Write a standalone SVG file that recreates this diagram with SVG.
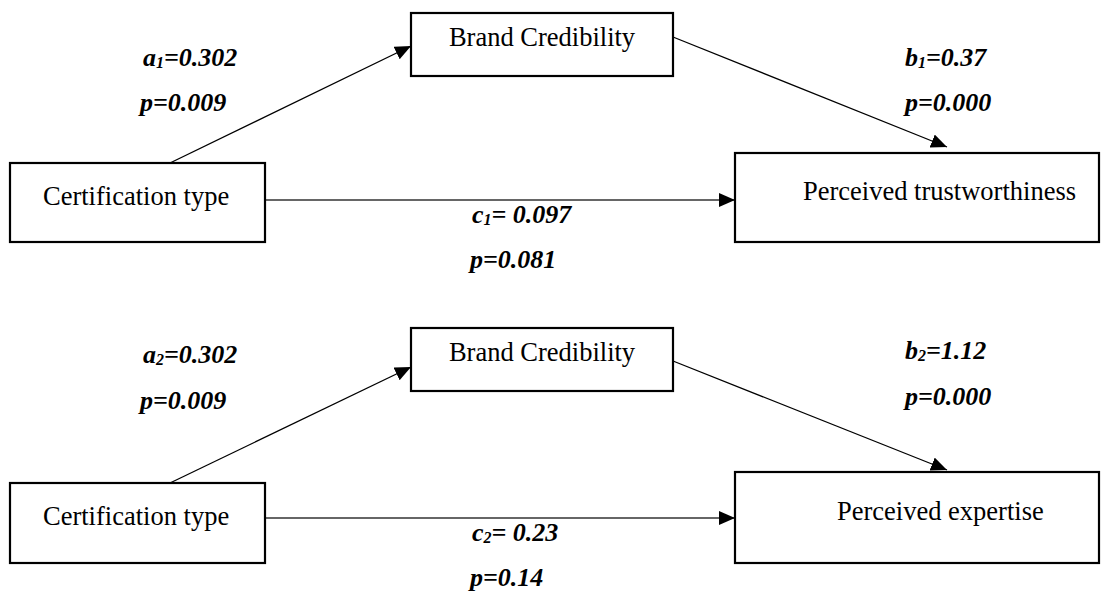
<svg xmlns="http://www.w3.org/2000/svg" width="1103" height="594" viewBox="0 0 1103 594">
<style>
.box{fill:#fff;stroke:#000;stroke-width:2.2}
.lbl{font-family:"Liberation Serif","Times New Roman",serif;font-size:26.5px;fill:#000}
.coef{font-family:"Liberation Serif","Times New Roman",serif;font-size:26px;font-weight:bold;font-style:italic;fill:#000}
.sub{font-size:16px}
.edge{stroke:#000;stroke-width:1.3;fill:none;marker-end:url(#ah)}
.hedge{stroke:#333;stroke-width:1.4;fill:none;marker-end:url(#ah)}
</style>
<defs>
<marker id="ah" markerUnits="userSpaceOnUse" markerWidth="17" markerHeight="15" refX="16" refY="7" orient="auto">
<path d="M0,0 L16,7 L0,14 z" fill="#000"/>
</marker>
</defs>
<g id="connectors">
<line class="edge" x1="170" y1="163" x2="411" y2="46"/>
<line class="edge" x1="673" y1="37" x2="947" y2="147"/>
<line class="hedge" x1="266" y1="200" x2="735" y2="200"/>
<line class="edge" x1="170" y1="483" x2="411" y2="367"/>
<line class="edge" x1="673" y1="361" x2="947" y2="470"/>
<line class="hedge" x1="266" y1="518" x2="735" y2="518"/>
</g>
<g id="n_cert1"><rect class="box" x="10" y="163" width="255" height="79"/><text class="lbl" x="43" y="205">Certification type</text></g>
<g id="n_brand1"><rect class="box" x="411" y="13" width="262" height="63"/><text class="lbl" x="542" y="46" text-anchor="middle">Brand Credibility</text></g>
<g id="n_trust"><rect class="box" x="735" y="153" width="364" height="89"/><text class="lbl" x="803" y="200">Perceived trustworthiness</text></g>
<g id="n_cert2"><rect class="box" x="10" y="483" width="255" height="80"/><text class="lbl" x="43" y="525">Certification type</text></g>
<g id="n_brand2"><rect class="box" x="411" y="328" width="262" height="63"/><text class="lbl" x="542" y="361" text-anchor="middle">Brand Credibility</text></g>
<g id="n_expert"><rect class="box" x="735" y="472" width="364" height="91"/><text class="lbl" x="837" y="520">Perceived expertise</text></g>
<g id="labels">
<text class="coef" x="143" y="66">a<tspan class="sub" dy="2">1</tspan><tspan dy="-2">=0.302</tspan></text>
<text class="coef" x="140" y="111">p=0.009</text>
<text class="coef" x="905" y="66">b<tspan class="sub" dy="2">1</tspan><tspan dy="-2">=0.37</tspan></text>
<text class="coef" x="905" y="111">p=0.000</text>
<text class="coef" x="472" y="223">c<tspan class="sub" dy="2">1</tspan><tspan dy="-2">= 0.097</tspan></text>
<text class="coef" x="470" y="268">p=0.081</text>
<text class="coef" x="143" y="363">a<tspan class="sub" dy="2">2</tspan><tspan dy="-2">=0.302</tspan></text>
<text class="coef" x="140" y="409">p=0.009</text>
<text class="coef" x="905" y="359">b<tspan class="sub" dy="2">2</tspan><tspan dy="-2">=1.12</tspan></text>
<text class="coef" x="905" y="405">p=0.000</text>
<text class="coef" x="472" y="541">c<tspan class="sub" dy="2">2</tspan><tspan dy="-2">= 0.23</tspan></text>
<text class="coef" x="470" y="586">p=0.14</text>
</g>
</svg>
